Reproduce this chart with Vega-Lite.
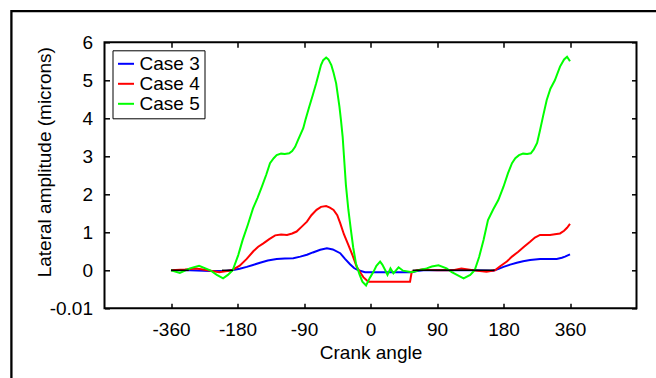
{
  "$schema": "https://vega.github.io/schema/vega-lite/v6.json",
  "width": 532,
  "height": 266,
  "autosize": {"type": "none"},
  "padding": {"left": 104.5, "top": 42.3, "right": 19.5, "bottom": 69.7},
  "background": "white",
  "config": {
    "font": "Liberation Sans",
    "view": {"stroke": "black", "strokeWidth": 2},
    "axis": {
      "grid": false,
      "domain": false,
      "tickColor": "black",
      "tickWidth": 1.5,
      "tickSize": -5,
      "labelFontSize": 19,
      "labelColor": "black",
      "labelPadding": 17,
      "titleFontSize": 19,
      "titleFontWeight": "normal",
      "titleColor": "black"
    }
  },
  "datasets": {
    "curves": [
      {"series": "Case 3", "angle": -360, "value": 0},
      {"series": "Case 3", "angle": -309, "value": 0},
      {"series": "Case 3", "angle": -254, "value": -0.02},
      {"series": "Case 3", "angle": -214, "value": -0.02},
      {"series": "Case 3", "angle": -195, "value": 0},
      {"series": "Case 3", "angle": -177, "value": 0.04},
      {"series": "Case 3", "angle": -167.5, "value": 0.09},
      {"series": "Case 3", "angle": -159, "value": 0.14},
      {"series": "Case 3", "angle": -149.5, "value": 0.2},
      {"series": "Case 3", "angle": -139, "value": 0.26},
      {"series": "Case 3", "angle": -127, "value": 0.3},
      {"series": "Case 3", "angle": -116, "value": 0.31},
      {"series": "Case 3", "angle": -104.5, "value": 0.32},
      {"series": "Case 3", "angle": -95, "value": 0.36},
      {"series": "Case 3", "angle": -86, "value": 0.41},
      {"series": "Case 3", "angle": -78, "value": 0.47},
      {"series": "Case 3", "angle": -68, "value": 0.54},
      {"series": "Case 3", "angle": -59, "value": 0.58},
      {"series": "Case 3", "angle": -51, "value": 0.55},
      {"series": "Case 3", "angle": -41, "value": 0.45},
      {"series": "Case 3", "angle": -34.5, "value": 0.3},
      {"series": "Case 3", "angle": -27.7, "value": 0.16},
      {"series": "Case 3", "angle": -22.3, "value": 0.06},
      {"series": "Case 3", "angle": -16.5, "value": 0},
      {"series": "Case 3", "angle": -7.4, "value": -0.05},
      {"series": "Case 3", "angle": 55.8, "value": -0.05},
      {"series": "Case 3", "angle": 63, "value": -0.02},
      {"series": "Case 3", "angle": 71.5, "value": 0},
      {"series": "Case 3", "angle": 90, "value": 0},
      {"series": "Case 3", "angle": 112, "value": 0},
      {"series": "Case 3", "angle": 135, "value": 0},
      {"series": "Case 3", "angle": 166, "value": -0.01},
      {"series": "Case 3", "angle": 172.6, "value": 0.03},
      {"series": "Case 3", "angle": 180, "value": 0.09},
      {"series": "Case 3", "angle": 198, "value": 0.15},
      {"series": "Case 3", "angle": 216, "value": 0.2},
      {"series": "Case 3", "angle": 233, "value": 0.24},
      {"series": "Case 3", "angle": 252, "value": 0.27},
      {"series": "Case 3", "angle": 279, "value": 0.3},
      {"series": "Case 3", "angle": 300, "value": 0.3},
      {"series": "Case 3", "angle": 324, "value": 0.3},
      {"series": "Case 3", "angle": 338, "value": 0.33},
      {"series": "Case 3", "angle": 346.5, "value": 0.36},
      {"series": "Case 3", "angle": 360, "value": 0.42},

      {"series": "Case 4", "angle": -360, "value": 0},
      {"series": "Case 4", "angle": -322, "value": 0.02},
      {"series": "Case 4", "angle": -292, "value": 0.05},
      {"series": "Case 4", "angle": -261, "value": 0},
      {"series": "Case 4", "angle": -229, "value": -0.05},
      {"series": "Case 4", "angle": -196, "value": 0},
      {"series": "Case 4", "angle": -177, "value": 0.12},
      {"series": "Case 4", "angle": -167.5, "value": 0.3},
      {"series": "Case 4", "angle": -158.6, "value": 0.5},
      {"series": "Case 4", "angle": -152, "value": 0.62},
      {"series": "Case 4", "angle": -145, "value": 0.71},
      {"series": "Case 4", "angle": -137, "value": 0.82},
      {"series": "Case 4", "angle": -129, "value": 0.92},
      {"series": "Case 4", "angle": -121, "value": 0.94},
      {"series": "Case 4", "angle": -113, "value": 0.93},
      {"series": "Case 4", "angle": -106, "value": 0.97},
      {"series": "Case 4", "angle": -100, "value": 1.02},
      {"series": "Case 4", "angle": -93, "value": 1.15},
      {"series": "Case 4", "angle": -86, "value": 1.28},
      {"series": "Case 4", "angle": -80, "value": 1.45},
      {"series": "Case 4", "angle": -73, "value": 1.59},
      {"series": "Case 4", "angle": -67, "value": 1.67},
      {"series": "Case 4", "angle": -60, "value": 1.69},
      {"series": "Case 4", "angle": -55, "value": 1.65},
      {"series": "Case 4", "angle": -50, "value": 1.59},
      {"series": "Case 4", "angle": -45, "value": 1.45},
      {"series": "Case 4", "angle": -41, "value": 1.24},
      {"series": "Case 4", "angle": -36, "value": 0.95},
      {"series": "Case 4", "angle": -30, "value": 0.67},
      {"series": "Case 4", "angle": -24, "value": 0.38},
      {"series": "Case 4", "angle": -18.7, "value": 0.09},
      {"series": "Case 4", "angle": -14, "value": -0.05},
      {"series": "Case 4", "angle": -9.7, "value": -0.18},
      {"series": "Case 4", "angle": -3, "value": -0.3},
      {"series": "Case 4", "angle": 53.5, "value": -0.3},
      {"series": "Case 4", "angle": 55.8, "value": -0.04},
      {"series": "Case 4", "angle": 63, "value": 0},
      {"series": "Case 4", "angle": 71.5, "value": 0.03},
      {"series": "Case 4", "angle": 80, "value": 0.01},
      {"series": "Case 4", "angle": 90, "value": 0},
      {"series": "Case 4", "angle": 112, "value": 0},
      {"series": "Case 4", "angle": 123, "value": 0.05},
      {"series": "Case 4", "angle": 139, "value": 0},
      {"series": "Case 4", "angle": 157, "value": -0.04},
      {"series": "Case 4", "angle": 168.5, "value": 0},
      {"series": "Case 4", "angle": 175, "value": 0.1},
      {"series": "Case 4", "angle": 189, "value": 0.23},
      {"series": "Case 4", "angle": 203, "value": 0.36},
      {"series": "Case 4", "angle": 220, "value": 0.49},
      {"series": "Case 4", "angle": 235.5, "value": 0.62},
      {"series": "Case 4", "angle": 252, "value": 0.75},
      {"series": "Case 4", "angle": 265, "value": 0.86},
      {"series": "Case 4", "angle": 279, "value": 0.93},
      {"series": "Case 4", "angle": 292, "value": 0.93},
      {"series": "Case 4", "angle": 306, "value": 0.93},
      {"series": "Case 4", "angle": 319, "value": 0.95},
      {"series": "Case 4", "angle": 333, "value": 0.97},
      {"series": "Case 4", "angle": 344, "value": 1.04},
      {"series": "Case 4", "angle": 352, "value": 1.12},
      {"series": "Case 4", "angle": 360, "value": 1.22},

      {"series": "Case 5", "angle": -360, "value": 0},
      {"series": "Case 5", "angle": -336, "value": -0.07},
      {"series": "Case 5", "angle": -309, "value": 0.05},
      {"series": "Case 5", "angle": -284, "value": 0.12},
      {"series": "Case 5", "angle": -254, "value": 0},
      {"series": "Case 5", "angle": -236, "value": -0.12},
      {"series": "Case 5", "angle": -219, "value": -0.21},
      {"series": "Case 5", "angle": -206, "value": -0.12},
      {"series": "Case 5", "angle": -193, "value": 0},
      {"series": "Case 5", "angle": -179, "value": 0.4},
      {"series": "Case 5", "angle": -173, "value": 0.8},
      {"series": "Case 5", "angle": -166, "value": 1.2},
      {"series": "Case 5", "angle": -159, "value": 1.63},
      {"series": "Case 5", "angle": -153, "value": 1.9},
      {"series": "Case 5", "angle": -147, "value": 2.2},
      {"series": "Case 5", "angle": -141, "value": 2.52},
      {"series": "Case 5", "angle": -136, "value": 2.82},
      {"series": "Case 5", "angle": -131, "value": 2.95},
      {"series": "Case 5", "angle": -127, "value": 3.03},
      {"series": "Case 5", "angle": -121, "value": 3.07},
      {"series": "Case 5", "angle": -116, "value": 3.06},
      {"series": "Case 5", "angle": -110, "value": 3.08},
      {"series": "Case 5", "angle": -106, "value": 3.14},
      {"series": "Case 5", "angle": -102, "value": 3.25},
      {"series": "Case 5", "angle": -98, "value": 3.43},
      {"series": "Case 5", "angle": -91, "value": 3.74},
      {"series": "Case 5", "angle": -88, "value": 3.96},
      {"series": "Case 5", "angle": -83, "value": 4.3},
      {"series": "Case 5", "angle": -78, "value": 4.62},
      {"series": "Case 5", "angle": -73.5, "value": 4.92},
      {"series": "Case 5", "angle": -70, "value": 5.18},
      {"series": "Case 5", "angle": -67, "value": 5.4},
      {"series": "Case 5", "angle": -64, "value": 5.53},
      {"series": "Case 5", "angle": -60, "value": 5.6},
      {"series": "Case 5", "angle": -57, "value": 5.55},
      {"series": "Case 5", "angle": -53, "value": 5.4},
      {"series": "Case 5", "angle": -50, "value": 5.2},
      {"series": "Case 5", "angle": -46.5, "value": 4.92},
      {"series": "Case 5", "angle": -42, "value": 4.3},
      {"series": "Case 5", "angle": -40, "value": 3.96},
      {"series": "Case 5", "angle": -37.7, "value": 3.52},
      {"series": "Case 5", "angle": -33.3, "value": 2.25},
      {"series": "Case 5", "angle": -30, "value": 1.6},
      {"series": "Case 5", "angle": -26.5, "value": 1.06},
      {"series": "Case 5", "angle": -23.4, "value": 0.6},
      {"series": "Case 5", "angle": -19.7, "value": 0.18},
      {"series": "Case 5", "angle": -15, "value": -0.1},
      {"series": "Case 5", "angle": -11, "value": -0.3},
      {"series": "Case 5", "angle": -6, "value": -0.4},
      {"series": "Case 5", "angle": -1, "value": -0.2},
      {"series": "Case 5", "angle": 4, "value": -0.04},
      {"series": "Case 5", "angle": 8, "value": 0.12},
      {"series": "Case 5", "angle": 13, "value": 0.23},
      {"series": "Case 5", "angle": 16, "value": 0.15},
      {"series": "Case 5", "angle": 20, "value": 0},
      {"series": "Case 5", "angle": 23, "value": -0.12},
      {"series": "Case 5", "angle": 27, "value": 0.05},
      {"series": "Case 5", "angle": 31, "value": -0.08},
      {"series": "Case 5", "angle": 34.5, "value": 0},
      {"series": "Case 5", "angle": 38, "value": 0.08},
      {"series": "Case 5", "angle": 44, "value": -0.01},
      {"series": "Case 5", "angle": 56, "value": -0.05},
      {"series": "Case 5", "angle": 65, "value": 0},
      {"series": "Case 5", "angle": 76, "value": 0.05},
      {"series": "Case 5", "angle": 83, "value": 0.1},
      {"series": "Case 5", "angle": 92, "value": 0.13},
      {"series": "Case 5", "angle": 103, "value": 0.05},
      {"series": "Case 5", "angle": 110, "value": -0.05},
      {"series": "Case 5", "angle": 117, "value": -0.12},
      {"series": "Case 5", "angle": 126, "value": -0.21},
      {"series": "Case 5", "angle": 135, "value": -0.12},
      {"series": "Case 5", "angle": 141, "value": 0},
      {"series": "Case 5", "angle": 147, "value": 0.35},
      {"series": "Case 5", "angle": 153, "value": 0.8},
      {"series": "Case 5", "angle": 159, "value": 1.32},
      {"series": "Case 5", "angle": 166, "value": 1.6},
      {"series": "Case 5", "angle": 173, "value": 1.85},
      {"series": "Case 5", "angle": 180, "value": 2.2},
      {"series": "Case 5", "angle": 192, "value": 2.55},
      {"series": "Case 5", "angle": 203, "value": 2.82},
      {"series": "Case 5", "angle": 212, "value": 2.95},
      {"series": "Case 5", "angle": 222, "value": 3.03},
      {"series": "Case 5", "angle": 233, "value": 3.07},
      {"series": "Case 5", "angle": 244, "value": 3.06},
      {"series": "Case 5", "angle": 254, "value": 3.08},
      {"series": "Case 5", "angle": 262, "value": 3.18},
      {"series": "Case 5", "angle": 271, "value": 3.35},
      {"series": "Case 5", "angle": 279, "value": 3.69},
      {"series": "Case 5", "angle": 287, "value": 4.05},
      {"series": "Case 5", "angle": 297, "value": 4.48},
      {"series": "Case 5", "angle": 307, "value": 4.78},
      {"series": "Case 5", "angle": 319, "value": 5.0},
      {"series": "Case 5", "angle": 333, "value": 5.36},
      {"series": "Case 5", "angle": 344, "value": 5.55},
      {"series": "Case 5", "angle": 352, "value": 5.62},
      {"series": "Case 5", "angle": 360, "value": 5.5}
    ],
    "baseline": [
      {"segment": "a", "angle": -360, "value": 0},
      {"segment": "a", "angle": -312, "value": 0},
      {"segment": "b", "angle": -222, "value": 0},
      {"segment": "b", "angle": -192, "value": 0},
      {"segment": "c", "angle": 57, "value": 0},
      {"segment": "c", "angle": 168, "value": 0}
    ]
  },
  "layer": [
    {
      "data": {"name": "curves"},
      "mark": {"type": "line", "strokeWidth": 2},
      "encoding": {
        "x": {
          "field": "angle",
          "type": "quantitative",
          "scale": {
            "domain": [-540, -360, -180, -90, 0, 90, 180, 360, 540],
            "range": [0, 66.5, 133, 199.5, 266, 332.5, 399, 465.5, 532],
            "nice": false,
            "zero": false
          },
          "axis": {
            "values": [-360, -180, -90, 0, 90, 180, 360],
            "labelExpr": "'' + datum.value",
            "title": "Crank angle",
            "titleY": 35,
            "titleBaseline": "top"
          }
        },
        "y": {
          "field": "value",
          "type": "quantitative",
          "scale": {"domain": [-1, 6], "nice": false, "zero": false},
          "axis": {
            "values": [-1, 0, 1, 2, 3, 4, 5, 6],
            "labelExpr": "datum.value == -1 ? '-0.01' : '' + datum.value",
            "title": "Lateral amplitude (microns)",
            "titleX": -60,
            "titleY": 119.4,
            "titleBaseline": "middle"
          }
        },
        "color": {
          "field": "series",
          "type": "nominal",
          "scale": {
            "domain": ["Case 3", "Case 4", "Case 5"],
            "range": ["#0000ff", "#ff0000", "#00ff00"]
          },
          "legend": {
            "title": null,
            "orient": "top-left",
            "offset": 8,
            "strokeColor": "black",
            "fillColor": "white",
            "padding": 4,
            "symbolType": "stroke",
            "symbolSize": 256,
            "symbolStrokeWidth": 2,
            "labelFontSize": 19,
            "labelColor": "black",
            "labelOffset": 4,
            "rowPadding": -1.5,
            "labelLimit": 200
          }
        }
      }
    },
    {
      "data": {"name": "baseline"},
      "mark": {"type": "line", "strokeWidth": 1.5, "color": "black"},
      "encoding": {
        "x": {
          "field": "angle",
          "type": "quantitative",
          "scale": {
            "domain": [-540, -360, -180, -90, 0, 90, 180, 360, 540],
            "range": [0, 66.5, 133, 199.5, 266, 332.5, 399, 465.5, 532],
            "nice": false,
            "zero": false
          },
          "axis": {
            "orient": "top",
            "values": [-360, -180, -90, 0, 90, 180, 360],
            "labels": false,
            "title": null
          }
        },
        "y": {
          "field": "value",
          "type": "quantitative",
          "scale": {"domain": [-1, 6], "nice": false, "zero": false},
          "axis": {
            "orient": "right",
            "values": [-1, 0, 1, 2, 3, 4, 5, 6],
            "labels": false,
            "title": null
          }
        },
        "detail": {"field": "segment", "type": "nominal"}
      }
    },
    {
      "data": {"values": [{"frame": "outer"}]},
      "mark": {"type": "rect", "fillOpacity": 0, "stroke": "black", "strokeWidth": 2.3, "clip": false},
      "encoding": {
        "x": {
          "datum": -792,
          "type": "quantitative",
          "scale": {
            "domain": [-540, -360, -180, -90, 0, 90, 180, 360, 540],
            "range": [0, 66.5, 133, 199.5, 266, 332.5, 399, 465.5, 532],
            "nice": false,
            "zero": false
          },
          "axis": null
        },
        "x2": {"datum": 720},
        "y": {
          "datum": 6.82,
          "type": "quantitative",
          "scale": {"domain": [-1, 6], "nice": false, "zero": false},
          "axis": null
        },
        "y2": {"datum": -3.5}
      }
    }
  ],
  "resolve": {"axis": {"x": "independent", "y": "independent"}}
}
